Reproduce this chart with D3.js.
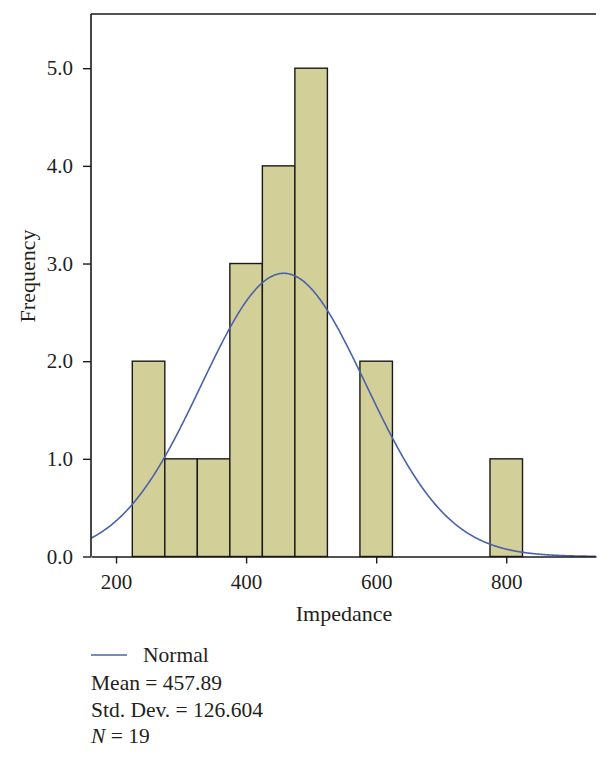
<!DOCTYPE html>
<html>
<head>
<meta charset="utf-8">
<script src="https://cdn.jsdelivr.net/npm/d3@7"></script>
<style>
  html, body { margin: 0; padding: 0; background: #fff; }
  svg { display: block; }
  text { font-family: "Liberation Serif", "Times New Roman", serif; fill: #231f20; }
</style>
</head>
<body>
<svg id="chart" width="610" height="759"></svg>
<script>
// ---- data ----
const binLower = [225, 275, 325, 375, 425, 475, 575, 775];
const binCounts = [2, 1, 1, 3, 4, 5, 2, 1];
const binWidth = 50;
const xTicks = [200, 400, 600, 800];
const yTicks = [0, 1, 2, 3, 4, 5];
const mean = 457.89;
const stdDev = 126.604;
const nObs = 19;
const curvePeak = 2.90;
const legendLines = ["Mean = 457.89", "Std. Dev. = 126.604"];

// ---- layout ----
const svg = d3.select("#chart");
const plotL = 91, plotR = 596, plotT = 14, plotB = 556.5;

const x = d3.scaleLinear().domain([161.5, 938]).range([plotL, plotR]);
const y = d3.scaleLinear().domain([0, 5.555]).range([plotB, plotT]);

// bars
svg.append("g").selectAll("rect")
  .data(binLower.map((b, i) => ({ lo: b, hi: b + binWidth, c: binCounts[i] })))
  .join("rect")
  .attr("x", d => x(d.lo))
  .attr("y", d => y(d.c))
  .attr("width", d => x(d.hi) - x(d.lo))
  .attr("height", d => y(0) - y(d.c))
  .attr("fill", "#d3cf99")
  .attr("stroke", "#1a1a1a")
  .attr("stroke-width", 1.4);

// normal curve (from stated mean / SD)
const xs = d3.range(161.5, 938.5, 1);
const pts = xs.map(v => [v, curvePeak * Math.exp(-0.5 * Math.pow((v - mean) / stdDev, 2))]);
svg.append("path")
  .datum(pts)
  .attr("fill", "none")
  .attr("stroke", "#4a62aa")
  .attr("stroke-width", 1.6)
  .attr("d", d3.line().x(d => x(d[0])).y(d => y(d[1])));

// axes
const yAxis = d3.axisLeft(y).tickValues(yTicks).tickFormat(d3.format(".1f"))
  .tickSize(8).tickSizeOuter(0).tickPadding(10);
const gy = svg.append("g").attr("transform", `translate(${plotL},0)`).call(yAxis);
const xAxis = d3.axisBottom(x).tickValues(xTicks).tickFormat(d3.format("d"))
  .tickSize(7).tickSizeOuter(0).tickPadding(11);
const gx = svg.append("g").attr("transform", `translate(0,${plotB})`).call(xAxis);

[gx, gy].forEach(g => {
  g.selectAll("path.domain").attr("stroke", "#1a1a1a").attr("stroke-width", 1.6);
  g.selectAll(".tick line").attr("stroke", "#1a1a1a").attr("stroke-width", 1.4);
  g.selectAll(".tick text").attr("font-size", 21).attr("fill", "#231f20")
    .style("font-family", '"Liberation Serif", serif');
});
gy.select("path.domain").attr("d", `M0,${plotT}V${plotB}`);

// top border
svg.append("line")
  .attr("x1", plotL).attr("x2", plotR).attr("y1", plotT).attr("y2", plotT)
  .attr("stroke", "#1a1a1a").attr("stroke-width", 1.6);

// axis titles
svg.append("text")
  .attr("x", 344).attr("y", 621)
  .attr("text-anchor", "middle").attr("font-size", 22)
  .text("Impedance");
svg.append("text")
  .attr("transform", "translate(35,276) rotate(-90)")
  .attr("text-anchor", "middle").attr("font-size", 22)
  .text("Frequency");

// legend
svg.append("line")
  .attr("x1", 91).attr("x2", 127).attr("y1", 655).attr("y2", 655)
  .attr("stroke", "#4a62aa").attr("stroke-width", 1.6);
svg.append("text").attr("x", 143).attr("y", 662).attr("font-size", 21.5).text("Normal");
legendLines.forEach((t, i) => {
  svg.append("text").attr("x", 91).attr("y", 690 + i * 26.5).attr("font-size", 21.5).text(t);
});
const nt = svg.append("text").attr("x", 91).attr("y", 743).attr("font-size", 21.5);
nt.append("tspan").attr("font-style", "italic").text("N");
nt.append("tspan").text(" = " + nObs);
</script>
</body>
</html>
